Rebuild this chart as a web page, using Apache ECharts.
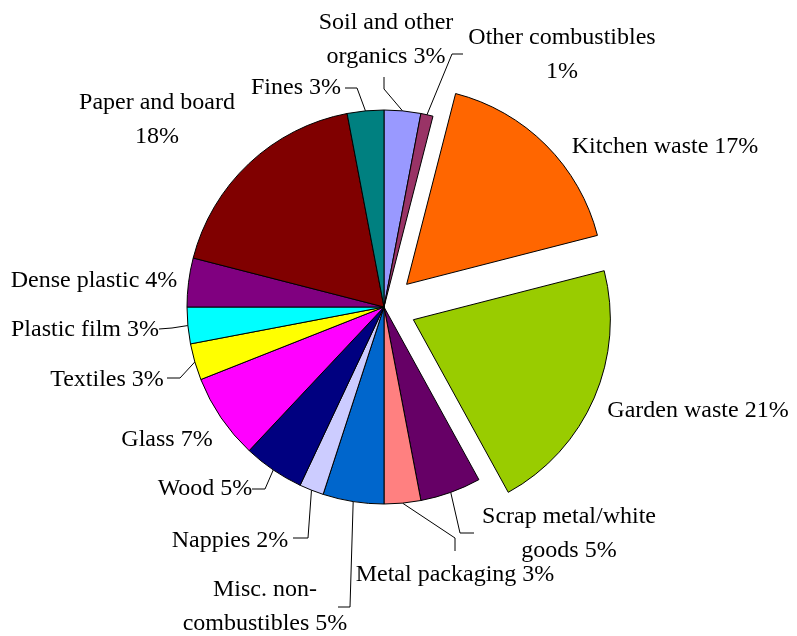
<!DOCTYPE html>
<html>
<head>
<meta charset="utf-8">
<script src="https://cdn.jsdelivr.net/npm/echarts@6/dist/echarts.min.js"></script>
<style>
  html, body { margin: 0; padding: 0; background: #fff; }
  #chart { width: 797px; height: 636px; }
</style>
</head>
<body>
<div id="chart"></div>
<script>
// Waste composition, clockwise from 12 o'clock
const categories = [
  'Soil and other organics', 'Other combustibles', 'Kitchen waste', 'Garden waste',
  'Scrap metal/white goods', 'Metal packaging', 'Misc. non-combustibles', 'Nappies',
  'Wood', 'Glass', 'Textiles', 'Plastic film', 'Dense plastic', 'Paper and board', 'Fines'
];
const shares = [3, 1, 17, 21, 5, 3, 5, 2, 5, 7, 3, 3, 4, 18, 3];
const explodedSlices = ['Kitchen waste', 'Garden waste'];

const palette = [
  '#9999FF', '#993366', '#FF6600', '#99CC00', '#660066', '#FF8080', '#0066CC', '#CCCCFF',
  '#000080', '#FF00FF', '#FFFF00', '#00FFFF', '#800080', '#800000', '#008080'
];

// Where a label's first line ends
const lineBreaks = {
  'Soil and other organics': 'Soil and other',
  'Other combustibles': 'Other combustibles',
  'Scrap metal/white goods': 'Scrap metal/white',
  'Misc. non-combustibles': 'Misc. non-',
  'Paper and board': 'Paper and board'
};

// Label placement: text centre and leader-line bend/end points
const labelPlacement = {
  'Soil and other organics': { x: 386, y: 40, line: [[384, 89], [384, 77]] },
  'Other combustibles':      { x: 562, y: 55, line: [[452, 54], [463, 54]] },
  'Kitchen waste':           { x: 665, y: 147 },
  'Garden waste':            { x: 698, y: 411 },
  'Scrap metal/white goods': { x: 569, y: 534, line: [[460, 533], [474, 533]] },
  'Metal packaging':         { x: 455, y: 575, line: [[455, 538], [455, 551]] },
  'Misc. non-combustibles':  { x: 265, y: 607, line: [[350, 607], [338, 607]] },
  'Nappies':                 { x: 230, y: 541, line: [[308, 538], [293, 538]] },
  'Wood':                    { x: 205, y: 489, line: [[265, 489], [252, 489]] },
  'Glass':                   { x: 167, y: 440 },
  'Textiles':                { x: 107, y: 380, line: [[180, 378], [167, 378]] },
  'Plastic film':            { x: 85,  y: 330, line: [[172, 328], [159, 329]] },
  'Dense plastic':           { x: 94,  y: 281 },
  'Paper and board':         { x: 157, y: 120 },
  'Fines':                   { x: 296, y: 88,  line: [[357, 88], [345, 88]] }
};

const sliceStyle = { borderColor: '#000', borderWidth: 1 };
const isExploded = name => explodedSlices.indexOf(name) >= 0;

const labelStyle = {
  show: true,
  position: 'outside',
  color: '#000',
  fontFamily: '"Liberation Serif", "Times New Roman", serif',
  fontSize: 24,
  lineHeight: 34,
  formatter: function (p) {
    const full = p.name + ' ' + p.value + '%';
    const head = lineBreaks[p.name];
    if (!head) return full;
    return head + '\n' + full.slice(head.length).replace(/^ /, '');
  }
};

function placeLabel(params) {
  const place = labelPlacement[categories[params.dataIndex]];
  const out = { x: place.x, y: place.y, align: 'center', verticalAlign: 'middle' };
  if (place.line && params.labelLinePoints) {
    out.labelLinePoints = [params.labelLinePoints[0]].concat(place.line);
  }
  return out;
}

// Slices; the exploded ones are pulled out through the selection offset
const sliceData = categories.map((name, i) => ({
  name: name,
  value: shares[i],
  selected: isExploded(name),
  itemStyle: Object.assign({ color: palette[i] }, sliceStyle),
  label: { show: !isExploded(name) },
  labelLine: { show: !!labelPlacement[name].line }
}));

// Same proportions, invisible, carrying the labels of the exploded slices
const explodedLabelData = categories.map((name, i) => ({
  name: name,
  value: shares[i],
  label: { show: isExploded(name) },
  labelLine: { show: false }
}));

const chart = echarts.init(document.getElementById('chart'), null, { renderer: 'canvas' });

chart.setOption({
  animation: false,
  backgroundColor: '#fff',
  series: [{
    type: 'pie',
    center: [384, 307],
    radius: 197,
    startAngle: 90,
    clockwise: true,
    avoidLabelOverlap: false,
    selectedMode: 'multiple',
    selectedOffset: 32,
    emphasis: { disabled: true },
    select: { itemStyle: sliceStyle },
    data: sliceData,
    label: labelStyle,
    labelLine: {
      show: true,
      length: 10,
      length2: 10,
      smooth: false,
      lineStyle: { color: '#000', width: 1 }
    },
    labelLayout: placeLabel
  }, {
    type: 'pie',
    silent: true,
    center: [384, 307],
    radius: 197,
    startAngle: 90,
    clockwise: true,
    avoidLabelOverlap: false,
    emphasis: { disabled: true },
    itemStyle: { color: 'rgba(0,0,0,0)', borderWidth: 0 },
    data: explodedLabelData,
    label: labelStyle,
    labelLine: { show: false },
    labelLayout: placeLabel
  }]
});
</script>
</body>
</html>
